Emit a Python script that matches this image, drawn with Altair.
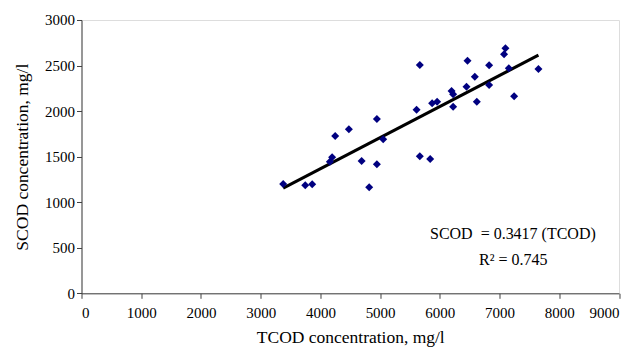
import altair as alt
import pandas as pd

# TCOD (x) and SCOD (y) measurements, mg/l
tcod = [3377, 3746, 3863, 4159, 4197, 4248, 4477, 4690, 4817, 4946, 4946, 5051,
        5610, 5665, 5665, 5838, 5871, 5955, 6196, 6223, 6223, 6447, 6463, 6586,
        6619, 6825, 6825, 7076, 7099, 7155, 7244, 7651]
scod = [1200, 1185, 1196, 1445, 1493, 1727, 1800, 1452, 1164, 1913, 1416, 1690,
        2015, 2505, 1504, 1474, 2085, 2103, 2221, 2184, 2048, 2268, 2553, 2378,
        2103, 2503, 2287, 2623, 2689, 2470, 2162, 2462]
slope = 0.3417
eq_text = ["SCOD\u00a0\u00a0= 0.3417 (TCOD)", "R\u00b2 = 0.745"]
x_ticks = list(range(0, 9001, 1000))
y_ticks = list(range(0, 3001, 500))

pts = pd.DataFrame({"TCOD": tcod, "SCOD": scod})
fit = pd.DataFrame({"TCOD": [min(tcod), max(tcod)]})
fit["SCOD"] = fit["TCOD"] * slope

FONT = "Liberation Serif"

xs = alt.Scale(domain=[0, 9000], nice=False)
ys = alt.Scale(domain=[0, 3000], nice=False)

xax = alt.Axis(values=x_ticks, format="d", grid=False, title="TCOD concentration, mg/l",
               labelFont=FONT, labelFontSize=15, labelColor="black", titleFont=FONT,
               titleFontSize=17.5, titleFontWeight="normal", titleColor="black",
               domainColor="#404040", tickColor="#404040", tickSize=5, labelPadding=7,
               titlePadding=8)
yax = alt.Axis(values=y_ticks, format="d", grid=False, title="SCOD concentration, mg/l",
               labelFont=FONT, labelFontSize=15, labelColor="black", titleFont=FONT,
               titleFontSize=17.5, titleFontWeight="normal", titleColor="black",
               domainColor="#404040", tickColor="#404040", tickSize=5, labelPadding=2,
               titlePadding=13)

points = alt.Chart(pts).mark_point(shape="diamond", filled=True, size=64, color="#000080",
                                   opacity=1).encode(
    x=alt.X("TCOD:Q", scale=xs, axis=xax),
    y=alt.Y("SCOD:Q", scale=ys, axis=yax),
)

line = alt.Chart(fit).mark_line(color="black", strokeWidth=3).encode(
    x=alt.X("TCOD:Q", scale=xs),
    y=alt.Y("SCOD:Q", scale=ys),
)

t1 = alt.Chart(pd.DataFrame({"t": [eq_text[0]]})).mark_text(
    font=FONT, fontSize=16, color="black", align="left", baseline="middle").encode(
    text="t:N", x=alt.value(348.5), y=alt.value(214.5))
t2 = alt.Chart(pd.DataFrame({"t": [eq_text[1]]})).mark_text(
    font=FONT, fontSize=16, color="black", align="left", baseline="middle").encode(
    text="t:N", x=alt.value(397.5), y=alt.value(240))

chart = alt.layer(line, points, t1, t2).properties(
    width=537.5, height=273.3,
    autosize=alt.AutoSizeParams(type="none"),
    padding={"left": 73.5, "top": 12, "right": 8, "bottom": 60},
).configure_view(stroke=None).configure(background="white")

chart.save("out.html", embed_options={"renderer": "svg", "actions": False})
